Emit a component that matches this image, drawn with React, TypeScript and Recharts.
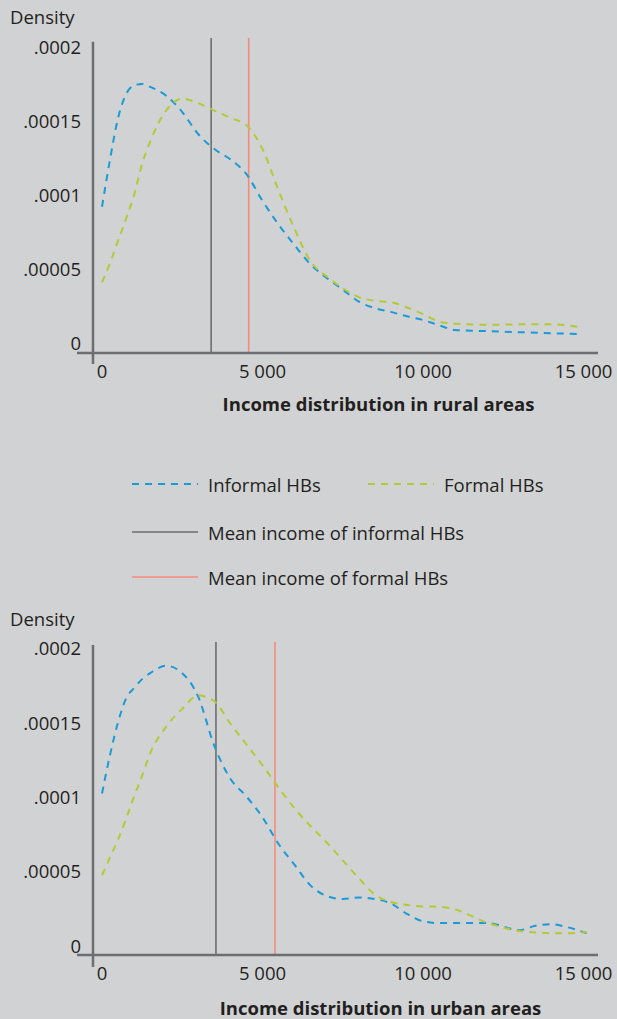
import { LineChart, Line, XAxis, YAxis, ReferenceLine } from 'recharts';

// income grid (x) and density readings for each series
const ruralIncome = [0, 250, 500, 750, 1000, 1250, 1500, 2000, 2500, 3000, 3500, 4000, 4500, 5000, 5500, 6000, 6500, 7000, 7500, 8000, 8500, 9000, 9500, 10000, 10500, 11000, 12000, 13000, 14000, 14800];
const ruralInformal = [0.000092, 0.000124, 0.000152, 0.000168, 0.000174, 0.000175, 0.000173, 0.000167, 0.000156, 0.000141, 0.000131, 0.000124, 0.000114, 0.000096, 0.00008, 0.000066, 0.000053, 0.000044, 0.000036, 0.000028, 0.0000235, 0.000021, 0.000018, 0.0000155, 0.000012, 0.0000088, 0.000008, 0.0000073, 0.0000066, 0.0000061];
const ruralFormal = [0.000041, 0.000054, 0.000069, 0.000084, 0.0001, 0.000121, 0.000136, 0.000157, 0.000165, 0.000162, 0.000157, 0.000152, 0.000147, 0.000131, 0.000103, 0.000077, 0.000055, 0.000045, 0.000037, 0.000031, 0.0000285, 0.0000275, 0.000024, 0.0000195, 0.0000145, 0.000013, 0.0000123, 0.0000126, 0.0000126, 0.000011];
const ruralMeans = { informal: 3400, formal: 4570 };

const urbanIncome = [0, 250, 500, 750, 1000, 1250, 1500, 2000, 2500, 3000, 3500, 4000, 4500, 5000, 5500, 6000, 6500, 7000, 7500, 8000, 8500, 9000, 9500, 10000, 10500, 11000, 12000, 13000, 13500, 14000, 14500, 15100];
const urbanInformal = [0.000102, 0.000128, 0.00015, 0.000166, 0.000173, 0.000179, 0.000183, 0.000188, 0.000183, 0.000167, 0.000134, 0.000112, 0.0001, 0.000086, 0.000068, 0.000054, 0.00004, 0.000033, 0.000031, 0.000032, 0.000031, 0.000028, 0.000021, 0.000016, 0.0000148, 0.0000148, 0.0000148, 0.00001, 0.000013, 0.000014, 0.000012, 0.000008];
const urbanFormal = [0.000047, 0.000059, 0.000071, 0.000085, 0.0001, 0.000114, 0.000129, 0.000147, 0.000159, 0.000168, 0.000164, 0.000149, 0.000135, 0.000121, 0.000106, 0.000092, 0.00008, 0.000069, 0.000057, 0.000045, 0.000034, 0.000029, 0.000027, 0.000026, 0.0000258, 0.000024, 0.000015, 0.0000095, 0.0000085, 0.000008, 0.000008, 0.0000088];
const urbanMeans = { informal: 3550, formal: 5390 };

const xTicks = [0, 5000, 10000, 15000];
const yTicks = [0, 0.00005, 0.0001, 0.00015, 0.0002];

const BG = '#d1d2d4';
const TEXT = '#231f20';
const AXIS = '#6d6e71';
const BLUE = '#1a9ad7';
const GREEN = '#b6c935';
const MEAN_GRAY = '#6d6e71';
const MEAN_RED = '#f58b7c';
const FONT = '"Open Sans", sans-serif';
const FS = 18.5;

const fmtX = (v: number) => v.toLocaleString('en-US').replace(',', ' ');
const fmtY = (v: number) => (v === 0 ? '0' : String(v).replace(/^0/, ''));

const YTick = (props: any) => {
  const { x, y, payload } = props;
  return (
    <text x={x + 4} y={y} textAnchor="end" dominantBaseline="central" fill={TEXT} fontSize={FS} fontFamily={FONT}>
      {fmtY(payload.value)}
    </text>
  );
};

type PanelProps = {
  income: number[];
  informal: number[];
  formal: number[];
  means: { informal: number; formal: number };
  height: number;
  top: number;
  bottom: number;
  yDomain: [number, number];
  yAxisSpan: [number, number];
  tickGap: number;
};

const DensityPanel = ({ income, informal, formal, means, height, top, bottom, yDomain, yAxisSpan, tickGap }: PanelProps) => {
  const data = income.map((v, i) => ({ income: v, informal: informal[i], formal: formal[i] }));
  return (
    <LineChart width={617} height={height} data={data} margin={{ top, right: 19, left: 0, bottom }}>
      <XAxis
        type="number"
        dataKey="income"
        domain={[-779, 15452]}
        ticks={xTicks}
        tickFormatter={fmtX}
        tickLine={false}
        tickSize={0}
        tickMargin={tickGap}
        height={30}
        axisLine={{ stroke: AXIS, strokeWidth: 2.5 }}
        tick={{ fill: TEXT, fontSize: FS, fontFamily: FONT }}
      />
      <YAxis
        type="number"
        domain={yDomain}
        ticks={yTicks}
        width={77}
        axisLine={false}
        tickLine={false}
        tickSize={0}
        tickMargin={0}
        tick={<YTick />}
      />
      <ReferenceLine
        segment={[{ x: -281, y: yAxisSpan[0] }, { x: -281, y: yAxisSpan[1] }]}
        stroke={AXIS}
        strokeWidth={2.5}
        ifOverflow="visible"
      />
      <ReferenceLine x={means.informal} stroke={MEAN_GRAY} strokeWidth={1.6} />
      <ReferenceLine x={means.formal} stroke={MEAN_RED} strokeWidth={1.6} />
      <Line type="monotone" dataKey="informal" stroke={BLUE} strokeWidth={2} strokeDasharray="7 6" dot={false} isAnimationActive={false} />
      <Line type="monotone" dataKey="formal" stroke={GREEN} strokeWidth={2} strokeDasharray="7 6" dot={false} isAnimationActive={false} />
    </LineChart>
  );
};

const textStyle = { position: 'absolute' as const, color: TEXT, fontSize: FS, fontFamily: FONT, lineHeight: '1', whiteSpace: 'nowrap' as const };

const LegendRow = ({ top, left, color, dashed, label }: { top: number; left: number; color: string; dashed: boolean; label: string }) => (
  <div style={{ position: 'absolute', top: top - 12, left, height: 24, display: 'flex', alignItems: 'center' }}>
    <svg width={66} height={4} style={{ display: 'block' }}>
      <line x1={0} y1={2} x2={66} y2={2} stroke={color} strokeWidth={dashed ? 2 : 1.6} strokeDasharray={dashed ? '7 6' : undefined} />
    </svg>
    <span style={{ marginLeft: 10, color: TEXT, fontSize: FS, fontFamily: FONT, whiteSpace: 'nowrap' }}>{label}</span>
  </div>
);

export default function App() {
  return (
    <div style={{ position: 'relative', width: 617, height: 1019, background: BG, overflow: 'hidden' }}>
      <style>{`body{margin:0;background:${BG};}`}</style>

      <div style={{ ...textStyle, left: 10, top: 8 }}>Density</div>
      <div style={{ position: 'absolute', left: 0, top: 0 }}>
        <DensityPanel
          income={ruralIncome}
          informal={ruralInformal}
          formal={ruralFormal}
          means={ruralMeans}
          height={400}
          top={38}
          bottom={17}
          yDomain={[-0.00000676, 0.000206]}
          yAxisSpan={[-0.0000142, 0.0002034]}
          tickGap={12}
        />
      </div>
      <div style={{ ...textStyle, left: 0, width: 617, textAlign: 'center', paddingLeft: 140, boxSizing: 'border-box', top: 395, fontWeight: 700 }}>
        Income distribution in rural areas
      </div>

      <LegendRow top={484} left={132} color={BLUE} dashed label="Informal HBs" />
      <LegendRow top={484} left={368} color={GREEN} dashed label="Formal HBs" />
      <LegendRow top={532} left={132} color={MEAN_GRAY} dashed={false} label="Mean income of informal HBs" />
      <LegendRow top={577} left={132} color={MEAN_RED} dashed={false} label="Mean income of formal HBs" />

      <div style={{ ...textStyle, left: 10, top: 610 }}>Density</div>
      <div style={{ position: 'absolute', left: 0, top: 600 }}>
        <DensityPanel
          income={urbanIncome}
          informal={urbanInformal}
          formal={urbanFormal}
          means={urbanMeans}
          height={419}
          top={42}
          bottom={34}
          yDomain={[-0.0000067, 0.000204]}
          yAxisSpan={[-0.0000148, 0.000202]}
          tickGap={12}
        />
      </div>
      <div style={{ ...textStyle, left: 0, width: 617, textAlign: 'center', paddingLeft: 144, boxSizing: 'border-box', top: 999, fontWeight: 700 }}>
        Income distribution in urban areas
      </div>
    </div>
  );
}
